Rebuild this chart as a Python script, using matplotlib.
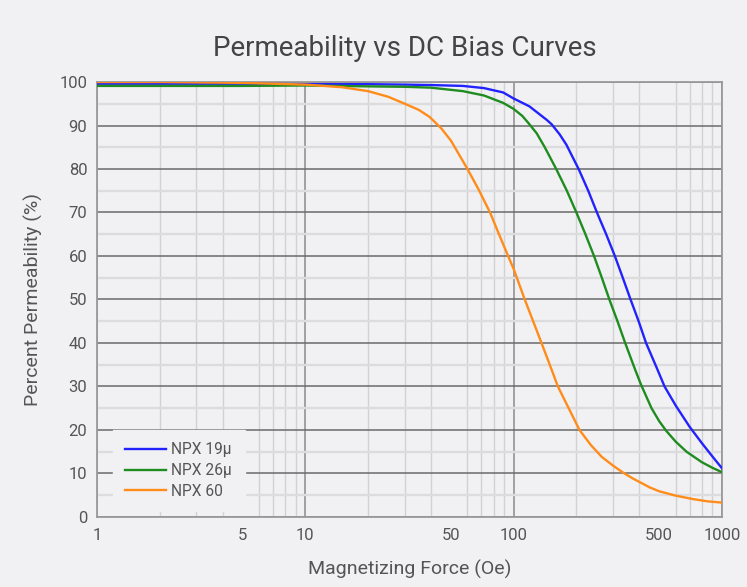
import matplotlib
matplotlib.use("Agg")
import matplotlib.pyplot as plt
from matplotlib.ticker import FixedLocator, NullFormatter

plt.rcParams['font.family'] = ['Roboto', 'DejaVu Sans']

# ---- data ----
blue_x = [1, 5, 10, 20, 30, 40, 57, 72, 89, 100, 119, 144, 152, 166, 179, 205, 228, 251, 278, 306,
          334, 364, 398, 432, 485, 530, 600, 700, 800, 900, 1000]
blue_y = [99.6, 99.6, 99.5, 99.5, 99.4, 99.3, 99.1, 98.6, 97.6, 96.2, 94.4, 91.3, 90.3, 88.0, 85.6,
          80, 75, 70, 65, 60, 55, 50, 45, 40, 34.4, 30, 25.6, 20.7, 17.0, 13.9, 11.2]

green_x = [1, 5, 10, 20, 30, 40, 57, 72, 89, 100, 110, 118, 129, 141, 160, 180, 200, 221, 243, 265,
           288, 315, 343, 382, 408, 459, 500, 540, 600, 676, 800, 900, 1000]
green_y = [99.1, 99.1, 99.2, 99.0, 98.9, 98.7, 97.9, 96.9, 95.2, 93.8, 92.2, 90.5, 88.2, 85.0, 80,
           75, 70, 65, 60, 55, 50, 45, 40, 34.0, 30.5, 25.0, 22.0, 19.8, 17.3, 15, 12.6, 11.3, 10.3]

orange_x = [1, 2, 5, 10, 15, 20, 25, 30, 35, 39.4, 45, 50, 60, 68, 77, 85, 94, 100, 113, 124, 136,
            149, 163, 185, 207, 235, 265, 300, 335, 375, 450, 500, 600, 728, 850, 1000]
orange_y = [100, 100, 99.8, 99.4, 98.8, 97.9, 96.6, 95.0, 93.6, 92.0, 89.3, 86.5, 80, 75.2, 70,
            65, 60, 57, 50, 45, 40, 35, 30, 24.7, 20, 16.5, 13.8, 11.8, 10.2, 8.8, 6.8, 5.9, 4.9,
            4.1, 3.6, 3.3]

series_names = ["NPX 19\u00b5", "NPX 26\u00b5", "NPX 60"]
x_ticks = [1, 5, 10, 50, 100, 500, 1000]
x_tick_labels = ["1", "5", "10", "50", "100", "500", "1000"]
y_ticks = list(range(0, 101, 10))

title = "Permeability vs DC Bias Curves"
xlabel = "Magnetizing Force (Oe)"
ylabel = "Percent Permeability (%)"

# ---- figure ----
bg = "#f1f1f3"
fig = plt.figure(figsize=(7.47, 5.87), dpi=100, facecolor=bg)
ax = fig.add_axes([0.130, 0.1193, 0.8365, 0.741])
ax.set_facecolor(bg)

ax.set_xscale("log")
ax.set_xlim(1, 1000)
ax.set_ylim(0, 100)

ax.set_xticks(x_ticks, labels=x_tick_labels)
minor_x = [m * 10 ** d for d in range(0, 3) for m in range(2, 10)]
ax.xaxis.set_minor_locator(FixedLocator(minor_x))
ax.xaxis.set_minor_formatter(NullFormatter())
ax.set_yticks(y_ticks, labels=[str(v) for v in y_ticks])
ax.yaxis.set_minor_locator(FixedLocator(list(range(5, 100, 10))))

ax.grid(True, which="major", axis="y", color="#6a6a6a", linewidth=1.1, zorder=1)
ax.grid(True, which="minor", axis="y", color="#dcdcde", linewidth=1.7, zorder=1)
ax.grid(True, which="minor", axis="x", color="#d2d2d4", linewidth=1.0, zorder=1)
ax.grid(False, which="major", axis="x")
for xv in [1, 10, 100, 1000]:
    ax.axvline(xv, color="#8a8a8a", linewidth=1.1, zorder=1.5)

for s in ax.spines.values():
    s.set_color("#9a9a9a")
    s.set_linewidth(1.3)

ax.tick_params(which="both", length=0)
ax.tick_params(axis="x", pad=8, labelsize=12, labelcolor="#555555")
ax.tick_params(axis="y", pad=7, labelsize=12, labelcolor="#555555")

ax.plot(blue_x, blue_y, color="#2222ff", linewidth=1.7, label=series_names[0], zorder=3,
        solid_joinstyle="round")
ax.plot(green_x, green_y, color="#1f8c1f", linewidth=1.7, label=series_names[1], zorder=3,
        solid_joinstyle="round")
ax.plot(orange_x, orange_y, color="#ff8c1a", linewidth=1.7, label=series_names[2], zorder=3,
        solid_joinstyle="round")

leg = ax.legend(loc="lower left", bbox_to_anchor=(0.013, -0.005), frameon=True,
                fontsize=11.2, handlelength=2.6, handletextpad=0.35,
                labelspacing=0.38, borderpad=0.8, fancybox=False)
leg.get_frame().set_facecolor(bg)
leg.get_frame().set_edgecolor(bg)
leg.get_frame().set_alpha(1.0)
for t in leg.get_texts():
    t.set_color("#555555")

fig.text(0.5415, 0.918, title, ha="center", va="center", fontsize=20, color="#444444")
ax.set_xlabel(xlabel, fontsize=14, color="#555555", labelpad=12)
ax.set_ylabel(ylabel, fontsize=14, color="#555555", labelpad=12)

fig.savefig("out.png", dpi=100, facecolor=bg)
